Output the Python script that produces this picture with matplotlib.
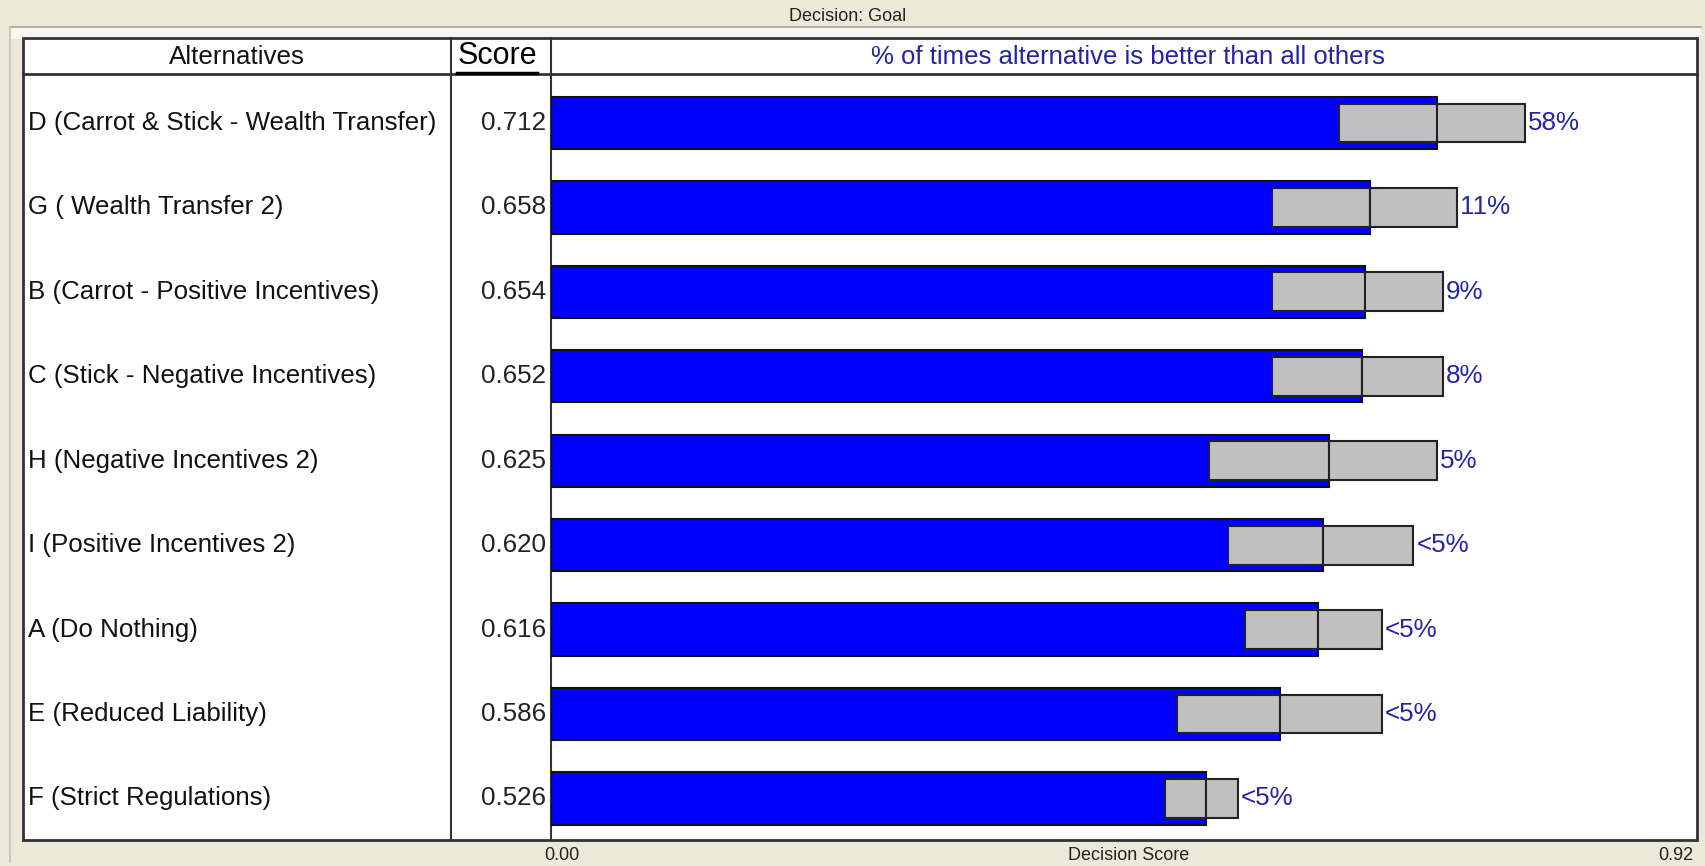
import matplotlib.pyplot as plt
import matplotlib.transforms as mtransforms
from matplotlib.patches import Rectangle
import numpy as np

plt.rcParams['font.family'] = ['Liberation Sans Narrow', 'Liberation Sans', 'DejaVu Sans']

alternatives = ['D (Carrot & Stick - Wealth Transfer)', 'G ( Wealth Transfer 2)',
                'B (Carrot - Positive Incentives)', 'C (Stick - Negative Incentives)',
                'H (Negative Incentives 2)', 'I (Positive Incentives 2)',
                'A (Do Nothing)', 'E (Reduced Liability)', 'F (Strict Regulations)']
scores = [0.712, 0.658, 0.654, 0.652, 0.625, 0.620, 0.616, 0.586, 0.526]
low = [0.633, 0.579, 0.579, 0.579, 0.529, 0.544, 0.558, 0.503, 0.493]
high = [0.783, 0.728, 0.717, 0.717, 0.712, 0.693, 0.668, 0.668, 0.552]
pct_better = ['58%', '11%', '9%', '8%', '5%', '<5%', '<5%', '<5%', '<5%']
x_max = 0.92

W, H = 1705, 866
beige = '#ECE9D8'
navy = '#2424A0'
edge = '#333333'

fig = plt.figure(figsize=(W / 100, H / 100), dpi=100, facecolor=beige)

# background / table frame in pixel coordinates
bg = fig.add_axes([0, 0, 1, 1])
bg.set_xlim(0, W)
bg.set_ylim(H, 0)
bg.axis('off')
bg.add_patch(Rectangle((10, 27), W - 14, 12, facecolor='#F6F5EF', edgecolor='none'))
bg.plot([10, W - 4], [27, 27], color='#A8A698', lw=1.2)
bg.plot([10, 10], [27, H - 4], color='#C8C6B8', lw=1.2)
bg.text(848, 25, 'Decision: Goal', ha='center', va='bottom', fontsize=13, color='#222222',
        bbox=dict(facecolor=beige, edgecolor='none', pad=1))
bg.add_patch(Rectangle((23, 38), 1697 - 23, 840 - 38, facecolor='white', edgecolor=edge, lw=2))
bg.plot([23, 1697], [74, 74], color=edge, lw=2)
bg.plot([451, 451], [38, 840], color=edge, lw=1.5)
bg.plot([551, 551], [38, 840], color=edge, lw=1.5)
bg.text(237, 57, 'Alternatives', ha='center', va='center', fontsize=18.7, color='#111111')
bg.text(497, 56, 'Score', ha='center', va='center', fontsize=22, color='black')
bg.plot([457, 537], [73, 73], color='black', lw=2.5)
bg.text(1128, 57, '% of times alternative is better than all others', ha='center',
        va='center', fontsize=18.5, color=navy)
bg.text(562, 855, '0.00', ha='center', va='center', fontsize=13, color='#222222')
bg.text(1129, 855, 'Decision Score', ha='center', va='center', fontsize=13, color='#222222')
bg.text(1693, 855, '0.92', ha='right', va='center', fontsize=13, color='#222222')

# chart area
x0, x1, y0, y1 = 551, 1696, 74, 839
ax = fig.add_axes([x0 / W, 1 - y1 / H, (x1 - x0) / W, (y1 - y0) / H])
ax.patch.set_alpha(0)
n = len(scores)
y = np.arange(n)
ax.set_xlim(0, x_max)
ax.set_ylim(n - 0.52, -0.58)
ax.axis('off')

ax.barh(y, scores, height=0.62, color='#0000FF', edgecolor='#111111', linewidth=1.5)
lo = np.array(low)
hi = np.array(high)
sc = np.array(scores)
ax.barh(y, sc - lo, left=lo, height=0.46, color='#C0C0C0', edgecolor='#222222', linewidth=1.5)
ax.barh(y, hi - sc, left=sc, height=0.46, color='#C0C0C0', edgecolor='#222222', linewidth=1.5)
for i in range(n):
    ax.annotate(pct_better[i], (high[i], y[i]), xytext=(2, 0), textcoords='offset points',
                ha='left', va='center', fontsize=18.7, color=navy)

# row labels and scores, x in figure pixels, y in data rows
tr = mtransforms.blended_transform_factory(
    mtransforms.Affine2D().scale(1 / W, 1) + fig.transFigure, ax.transData)
for i in range(n):
    fig.text(28, y[i], alternatives[i], transform=tr, ha='left', va='center',
             fontsize=18.6, color='#111111')
    fig.text(546, y[i], '%.3f' % scores[i], transform=tr, ha='right', va='center',
             fontsize=18.7, color='#222222')

fig.savefig('out.png', dpi=100, facecolor=beige)
